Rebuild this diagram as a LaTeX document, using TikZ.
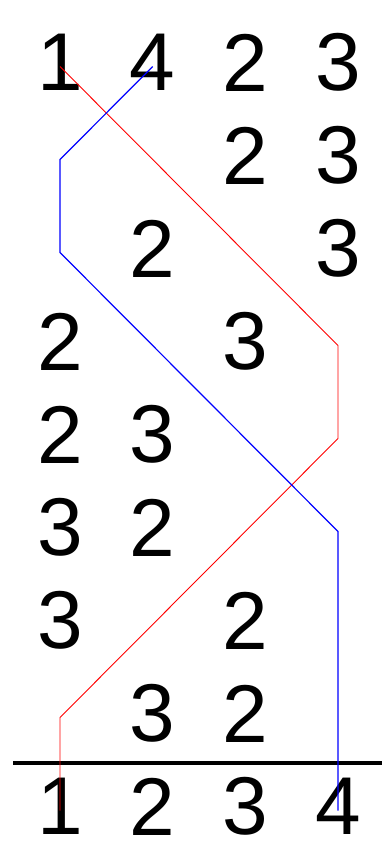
\documentclass[tikz,border=0pt]{standalone}
\usepackage{fontspec}
\setmainfont{Liberation Sans}
\begin{document}
\begin{tikzpicture}[x=1pt,y=-1pt,
  digit/.style={inner sep=0pt,outer sep=0pt,font=\fontsize{82}{82}\selectfont},
  redpath/.style={draw=red,line width=0.9pt},
  bluepath/.style={draw=blue,line width=1.2pt},
  baseline/.style={draw=black,line width=3.5pt}]
\useasboundingbox (0,0) rectangle (382,844);
% columns and rows
\def\cx#1{\ifcase#1 60\or 152.7\or 245.3\or 338\fi}
% digit nodes: \dg{row}{col}{text}
\newcommand\dg[3]{\node[digit] (d-#1-#2) at ({\cx{#2}},{62.5+93*#1}) {#3};}
\dg{0}{0}{1}\dg{0}{1}{4}\dg{0}{2}{2}\dg{0}{3}{3}
\dg{1}{2}{2}\dg{1}{3}{3}
\dg{2}{1}{2}\dg{2}{3}{3}
\dg{3}{0}{2}\dg{3}{2}{3}
\dg{4}{0}{2}\dg{4}{1}{3}
\dg{5}{0}{3}\dg{5}{1}{2}
\dg{6}{0}{3}\dg{6}{2}{2}
\dg{7}{1}{3}\dg{7}{2}{2}
\dg{8}{0}{1}\dg{8}{1}{2}\dg{8}{2}{3}\dg{8}{3}{4}
% path points
\foreach \r in {0,...,8}{
  \foreach \c in {0,...,3}{
    \coordinate (p-\r-\c) at ({\cx{\c}},{66.5+93*\r});
  }}
\coordinate (hl) at (13,763);
\coordinate (hr) at (382,763);
\draw[baseline] (hl) -- (hr);
\draw[redpath] (p-0-0) -- (p-3-3) -- (p-4-3) -- (p-7-0) -- (p-8-0);
\draw[bluepath] (p-0-1) -- (p-1-0) -- (p-2-0) -- (p-5-3) -- (p-8-3);
\end{tikzpicture}
\end{document}
